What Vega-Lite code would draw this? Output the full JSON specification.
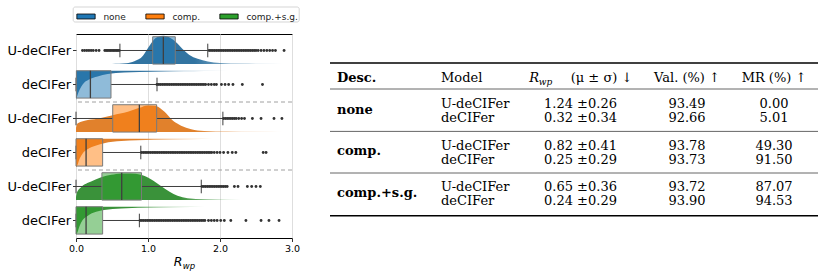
{
  "$schema": "https://vega.github.io/schema/vega-lite/v6.json",
  "padding": {"left": 6, "top": 5, "right": 0, "bottom": 0},
  "config": {"font": "DejaVu Sans", "view": {"stroke": null}},
  "spacing": 28,
  "resolve": {"scale": {"color": "independent"}, "legend": {"color": "independent"}},
  "datasets": {
    "violins": [
      {"r":0,"x":0,"d":0},{"r":0,"x":0.5,"d":0},{"r":0,"x":0.6,"d":0.004},{"r":0,"x":0.7,"d":0.02},{"r":0,"x":0.81,"d":0.08},{"r":0,"x":0.93,"d":0.24},{"r":0,"x":1.0,"d":0.47},{"r":0,"x":1.065,"d":0.67},{"r":0,"x":1.13,"d":0.79},{"r":0,"x":1.22,"d":0.83},{"r":0,"x":1.3,"d":0.78},{"r":0,"x":1.39,"d":0.64},{"r":0,"x":1.48,"d":0.44},{"r":0,"x":1.57,"d":0.27},{"r":0,"x":1.69,"d":0.15},{"r":0,"x":1.83,"d":0.07},{"r":0,"x":2.0,"d":0.03},{"r":0,"x":2.3,"d":0.012},{"r":0,"x":2.6,"d":0.005},{"r":0,"x":2.9,"d":0},{"r":0,"x":3.0,"d":0},
      {"r":1,"x":0,"d":0.86},{"r":1,"x":0.02,"d":0.72},{"r":1,"x":0.05,"d":0.56},{"r":1,"x":0.09,"d":0.41},{"r":1,"x":0.18,"d":0.26},{"r":1,"x":0.3,"d":0.17},{"r":1,"x":0.44,"d":0.1},{"r":1,"x":0.67,"d":0.05},{"r":1,"x":1.09,"d":0.03},{"r":1,"x":1.5,"d":0.018},{"r":1,"x":1.78,"d":0.01},{"r":1,"x":2.2,"d":0.005},{"r":1,"x":2.6,"d":0},{"r":1,"x":3.0,"d":0},
      {"r":2,"x":0,"d":0.12},{"r":2,"x":0.02,"d":0.25},{"r":2,"x":0.12,"d":0.33},{"r":2,"x":0.3,"d":0.39},{"r":2,"x":0.51,"d":0.49},{"r":2,"x":0.72,"d":0.59},{"r":2,"x":0.88,"d":0.71},{"r":2,"x":1.0,"d":0.78},{"r":2,"x":1.11,"d":0.76},{"r":2,"x":1.23,"d":0.59},{"r":2,"x":1.34,"d":0.34},{"r":2,"x":1.46,"d":0.18},{"r":2,"x":1.6,"d":0.08},{"r":2,"x":1.78,"d":0.03},{"r":2,"x":2.1,"d":0.01},{"r":2,"x":2.5,"d":0.004},{"r":2,"x":2.9,"d":0},{"r":2,"x":3.0,"d":0},
      {"r":3,"x":0,"d":0.83},{"r":3,"x":0.01,"d":0.82},{"r":3,"x":0.05,"d":0.59},{"r":3,"x":0.09,"d":0.44},{"r":3,"x":0.16,"d":0.31},{"r":3,"x":0.28,"d":0.2},{"r":3,"x":0.39,"d":0.13},{"r":3,"x":0.63,"d":0.07},{"r":3,"x":1.08,"d":0.03},{"r":3,"x":1.6,"d":0.012},{"r":3,"x":2.2,"d":0.004},{"r":3,"x":2.65,"d":0},{"r":3,"x":3.0,"d":0},
      {"r":4,"x":0,"d":0.08},{"r":4,"x":0.01,"d":0.2},{"r":4,"x":0.07,"d":0.37},{"r":4,"x":0.21,"d":0.54},{"r":4,"x":0.35,"d":0.67},{"r":4,"x":0.49,"d":0.74},{"r":4,"x":0.625,"d":0.78},{"r":4,"x":0.76,"d":0.78},{"r":4,"x":0.9,"d":0.74},{"r":4,"x":1.04,"d":0.61},{"r":4,"x":1.18,"d":0.41},{"r":4,"x":1.3,"d":0.24},{"r":4,"x":1.41,"d":0.12},{"r":4,"x":1.55,"d":0.05},{"r":4,"x":1.78,"d":0.02},{"r":4,"x":2.1,"d":0.008},{"r":4,"x":2.57,"d":0},{"r":4,"x":3.0,"d":0},
      {"r":5,"x":0,"d":0.81},{"r":5,"x":0.01,"d":0.8},{"r":5,"x":0.05,"d":0.57},{"r":5,"x":0.09,"d":0.4},{"r":5,"x":0.16,"d":0.27},{"r":5,"x":0.28,"d":0.15},{"r":5,"x":0.39,"d":0.1},{"r":5,"x":0.63,"d":0.05},{"r":5,"x":1.08,"d":0.025},{"r":5,"x":1.6,"d":0.01},{"r":5,"x":2.0,"d":0.004},{"r":5,"x":2.8,"d":0},{"r":5,"x":3.0,"d":0}
    ],
    "boxes": [
      {"desc":"none","model":"U-deCIFer","r":0,"wlo":0.61,"q1":1.065,"med":1.213,"q3":1.379,"whi":1.83},
      {"desc":"none","model":"deCIFer","r":1,"wlo":0.0,"q1":0.005,"med":0.2,"q3":0.486,"whi":1.125},
      {"desc":"comp.","model":"U-deCIFer","r":2,"wlo":0.0,"q1":0.51,"med":0.88,"q3":1.12,"whi":2.04},
      {"desc":"comp.","model":"deCIFer","r":3,"wlo":0.0,"q1":0.0,"med":0.14,"q3":0.37,"whi":0.9},
      {"desc":"comp.+s.g.","model":"U-deCIFer","r":4,"wlo":0.0,"q1":0.36,"med":0.635,"q3":0.91,"whi":1.74},
      {"desc":"comp.+s.g.","model":"deCIFer","r":5,"wlo":0.0,"q1":0.0,"med":0.14,"q3":0.37,"whi":0.88}
    ],
    "outliers": [
      {"r":0,"x":0.09},{"r":0,"x":0.12},{"r":0,"x":0.15},{"r":0,"x":0.18},{"r":0,"x":0.21},{"r":0,"x":0.24},{"r":0,"x":0.28},{"r":0,"x":0.32},{"r":0,"x":0.4},{"r":0,"x":0.42},{"r":0,"x":0.44},{"r":0,"x":0.46},{"r":0,"x":0.48},{"r":0,"x":0.5},{"r":0,"x":0.52},{"r":0,"x":0.54},{"r":0,"x":0.56},{"r":0,"x":0.58},{"r":0,"x":0.6},
      {"r":0,"x":1.85},{"r":0,"x":1.875},{"r":0,"x":1.9},{"r":0,"x":1.925},{"r":0,"x":1.95},{"r":0,"x":1.975},{"r":0,"x":2.0},{"r":0,"x":2.025},{"r":0,"x":2.05},{"r":0,"x":2.075},{"r":0,"x":2.1},{"r":0,"x":2.125},{"r":0,"x":2.15},{"r":0,"x":2.175},{"r":0,"x":2.2},{"r":0,"x":2.225},{"r":0,"x":2.25},{"r":0,"x":2.275},{"r":0,"x":2.3},{"r":0,"x":2.325},{"r":0,"x":2.35},{"r":0,"x":2.375},{"r":0,"x":2.4},{"r":0,"x":2.425},{"r":0,"x":2.45},{"r":0,"x":2.475},{"r":0,"x":2.5},{"r":0,"x":2.53},{"r":0,"x":2.57},{"r":0,"x":2.61},{"r":0,"x":2.65},{"r":0,"x":2.69},{"r":0,"x":2.73},{"r":0,"x":2.77},{"r":0,"x":2.89},
      {"r":1,"x":1.125},{"r":1,"x":1.15},{"r":1,"x":1.175},{"r":1,"x":1.2},{"r":1,"x":1.225},{"r":1,"x":1.25},{"r":1,"x":1.275},{"r":1,"x":1.3},{"r":1,"x":1.325},{"r":1,"x":1.35},{"r":1,"x":1.375},{"r":1,"x":1.4},{"r":1,"x":1.425},{"r":1,"x":1.45},{"r":1,"x":1.475},{"r":1,"x":1.5},{"r":1,"x":1.525},{"r":1,"x":1.55},{"r":1,"x":1.575},{"r":1,"x":1.6},{"r":1,"x":1.625},{"r":1,"x":1.65},{"r":1,"x":1.675},{"r":1,"x":1.7},{"r":1,"x":1.725},{"r":1,"x":1.75},{"r":1,"x":1.775},{"r":1,"x":1.8},{"r":1,"x":1.84},{"r":1,"x":1.88},{"r":1,"x":1.92},{"r":1,"x":1.95},{"r":1,"x":2.02},{"r":1,"x":2.07},{"r":1,"x":2.12},{"r":1,"x":2.18},{"r":1,"x":2.31},{"r":1,"x":2.59},
      {"r":2,"x":2.05},{"r":2,"x":2.075},{"r":2,"x":2.1},{"r":2,"x":2.125},{"r":2,"x":2.15},{"r":2,"x":2.175},{"r":2,"x":2.2},{"r":2,"x":2.225},{"r":2,"x":2.26},{"r":2,"x":2.3},{"r":2,"x":2.34},{"r":2,"x":2.45},{"r":2,"x":2.57},{"r":2,"x":2.75},{"r":2,"x":2.86},
      {"r":3,"x":0.91},{"r":3,"x":0.935},{"r":3,"x":0.96},{"r":3,"x":0.985},{"r":3,"x":1.01},{"r":3,"x":1.035},{"r":3,"x":1.06},{"r":3,"x":1.085},{"r":3,"x":1.11},{"r":3,"x":1.135},{"r":3,"x":1.16},{"r":3,"x":1.185},{"r":3,"x":1.21},{"r":3,"x":1.235},{"r":3,"x":1.26},{"r":3,"x":1.285},{"r":3,"x":1.31},{"r":3,"x":1.335},{"r":3,"x":1.36},{"r":3,"x":1.385},{"r":3,"x":1.41},{"r":3,"x":1.435},{"r":3,"x":1.46},{"r":3,"x":1.485},{"r":3,"x":1.51},{"r":3,"x":1.535},{"r":3,"x":1.56},{"r":3,"x":1.585},{"r":3,"x":1.61},{"r":3,"x":1.635},{"r":3,"x":1.66},{"r":3,"x":1.685},{"r":3,"x":1.71},{"r":3,"x":1.735},{"r":3,"x":1.76},{"r":3,"x":1.785},{"r":3,"x":1.81},{"r":3,"x":1.835},{"r":3,"x":1.86},{"r":3,"x":1.885},{"r":3,"x":1.92},{"r":3,"x":1.96},{"r":3,"x":2.0},{"r":3,"x":2.05},{"r":3,"x":2.11},{"r":3,"x":2.17},{"r":3,"x":2.22},{"r":3,"x":2.6},{"r":3,"x":2.64},
      {"r":4,"x":1.75},{"r":4,"x":1.775},{"r":4,"x":1.8},{"r":4,"x":1.825},{"r":4,"x":1.85},{"r":4,"x":1.875},{"r":4,"x":1.9},{"r":4,"x":1.925},{"r":4,"x":1.95},{"r":4,"x":1.975},{"r":4,"x":2.0},{"r":4,"x":2.025},{"r":4,"x":2.05},{"r":4,"x":2.075},{"r":4,"x":2.1},{"r":4,"x":2.2},{"r":4,"x":2.25},{"r":4,"x":2.38},{"r":4,"x":2.44},{"r":4,"x":2.5},{"r":4,"x":2.56},
      {"r":5,"x":0.89},{"r":5,"x":0.915},{"r":5,"x":0.94},{"r":5,"x":0.965},{"r":5,"x":0.99},{"r":5,"x":1.015},{"r":5,"x":1.04},{"r":5,"x":1.065},{"r":5,"x":1.09},{"r":5,"x":1.115},{"r":5,"x":1.14},{"r":5,"x":1.165},{"r":5,"x":1.19},{"r":5,"x":1.215},{"r":5,"x":1.24},{"r":5,"x":1.265},{"r":5,"x":1.29},{"r":5,"x":1.315},{"r":5,"x":1.34},{"r":5,"x":1.365},{"r":5,"x":1.39},{"r":5,"x":1.415},{"r":5,"x":1.44},{"r":5,"x":1.465},{"r":5,"x":1.49},{"r":5,"x":1.515},{"r":5,"x":1.54},{"r":5,"x":1.565},{"r":5,"x":1.59},{"r":5,"x":1.615},{"r":5,"x":1.64},{"r":5,"x":1.665},{"r":5,"x":1.69},{"r":5,"x":1.715},{"r":5,"x":1.74},{"r":5,"x":1.765},{"r":5,"x":1.79},{"r":5,"x":1.84},{"r":5,"x":1.88},{"r":5,"x":1.92},{"r":5,"x":1.96},{"r":5,"x":2.01},{"r":5,"x":2.06},{"r":5,"x":2.15},{"r":5,"x":2.36},{"r":5,"x":2.57},{"r":5,"x":2.68},{"r":5,"x":2.82}
    ],
    "table": [
      {"c":0,"l":1,"t":"Desc."},{"c":1,"l":1,"t":"Model"},{"c":2,"l":1,"t":"R"},{"c":3,"l":2,"t":"wp"},{"c":4,"l":1,"t":"(μ ± σ) ↓"},{"c":6,"l":1,"t":"Val. (%) ↑"},{"c":7,"l":1,"t":"MR (%) ↑"},
      {"c":0,"l":5,"t":"none"},{"c":0,"l":9,"t":"comp."},{"c":0,"l":13,"t":"comp.+s.g."},
      {"c":1,"l":4,"t":"U-deCIFer"},{"c":5,"l":4,"t":"1.24 ±0.26"},{"c":6,"l":4,"t":"93.49"},{"c":7,"l":4,"t":"0.00"},
      {"c":1,"l":6,"t":"deCIFer"},{"c":5,"l":6,"t":"0.32 ±0.34"},{"c":6,"l":6,"t":"92.66"},{"c":7,"l":6,"t":"5.01"},
      {"c":1,"l":8,"t":"U-deCIFer"},{"c":5,"l":8,"t":"0.82 ±0.41"},{"c":6,"l":8,"t":"93.78"},{"c":7,"l":8,"t":"49.30"},
      {"c":1,"l":10,"t":"deCIFer"},{"c":5,"l":10,"t":"0.25 ±0.29"},{"c":6,"l":10,"t":"93.73"},{"c":7,"l":10,"t":"91.50"},
      {"c":1,"l":12,"t":"U-deCIFer"},{"c":5,"l":12,"t":"0.65 ±0.36"},{"c":6,"l":12,"t":"93.72"},{"c":7,"l":12,"t":"87.07"},
      {"c":1,"l":14,"t":"deCIFer"},{"c":5,"l":14,"t":"0.24 ±0.29"},{"c":6,"l":14,"t":"93.90"},{"c":7,"l":14,"t":"94.53"}
    ]
  },
  "hconcat": [
    {
      "width": 216,
      "height": 204,
      "view": {"stroke": "#000", "strokeWidth": 1},
      "resolve": {"axis": {"x": "independent"}},
      "layer": [
        {
          "data": {"name": "violins"},
          "transform": [{"filter": "datum.r == 0"}, {"calculate": "datum.r + 0.88 - datum.d", "as": "yv"}, {"calculate": "datum.r + 0.88", "as": "yb"}],
          "mark": {"type": "area", "interpolate": "monotone", "fill": {"gradient": "linear", "x1": 0, "y1": 0, "x2": 1, "y2": 0, "stops": [{"offset": 0, "color": "rgba(50,116,161,1)"}, {"offset": 0.55, "color": "rgba(50,116,161,1)"}, {"offset": 0.97, "color": "rgba(50,116,161,0)"}]}},
          "encoding": {
            "x": {"field": "x", "type": "quantitative", "scale": {"domain": [0, 3], "nice": false, "zero": false},
              "axis": {"orient": "bottom", "values": [0, 1, 2, 3], "format": ".1f", "grid": true, "gridColor": "#dedede", "gridWidth": 1, "domain": false, "ticks": true, "tickColor": "#000", "tickSize": 3.5, "tickWidth": 0.8, "labelFontSize": 9.5, "labelColor": "#000", "labelPadding": 2, "labelFlush": false, "title": "R", "titleFontStyle": "italic", "titleFontWeight": "normal", "titleFontSize": 12.5, "titleX": 101.7, "titleY": 27.7, "titleBaseline": "alphabetic", "titleAlign": "center", "titleAnchor": null, "titleColor": "#000"}},
            "y": {"field": "yv", "type": "quantitative", "scale": {"domain": [0, 6], "reverse": true, "nice": false, "zero": false},
              "axis": {"values": [0.485, 1.485, 2.485, 3.485, 4.485, 5.485], "labelExpr": "floor(datum.value) % 2 == 0 ? 'U-deCIFer' : 'deCIFer'", "grid": false, "domain": false, "tickColor": "#000", "tickSize": 3.5, "tickWidth": 0.8, "labelFontSize": 13, "labelColor": "#000", "labelPadding": 2, "title": null}},
            "y2": {"field": "yb"}
          }
        },
        {
          "data": {"name": "violins"},
          "transform": [{"filter": "datum.r == 1"}, {"calculate": "datum.r + 0.08 + datum.d", "as": "yv"}, {"calculate": "datum.r + 0.08", "as": "yb"}],
          "mark": {"type": "area", "interpolate": "monotone", "fill": {"gradient": "linear", "x1": 0, "y1": 0, "x2": 1, "y2": 0, "stops": [{"offset": 0, "color": "rgba(50,116,161,1)"}, {"offset": 0.33, "color": "rgba(50,116,161,1)"}, {"offset": 0.7, "color": "rgba(50,116,161,0)"}]}},
          "encoding": {"x": {"field": "x", "type": "quantitative", "axis": null}, "y": {"field": "yv", "type": "quantitative"}, "y2": {"field": "yb"}}
        },
        {
          "data": {"name": "violins"},
          "transform": [{"filter": "datum.r == 2"}, {"calculate": "datum.r + 0.88 - datum.d", "as": "yv"}, {"calculate": "datum.r + 0.88", "as": "yb"}],
          "mark": {"type": "area", "interpolate": "monotone", "fill": {"gradient": "linear", "x1": 0, "y1": 0, "x2": 1, "y2": 0, "stops": [{"offset": 0, "color": "rgba(225,129,44,1)"}, {"offset": 0.55, "color": "rgba(225,129,44,1)"}, {"offset": 0.97, "color": "rgba(225,129,44,0)"}]}},
          "encoding": {"x": {"field": "x", "type": "quantitative", "axis": null}, "y": {"field": "yv", "type": "quantitative"}, "y2": {"field": "yb"}}
        },
        {
          "data": {"name": "violins"},
          "transform": [{"filter": "datum.r == 3"}, {"calculate": "datum.r + 0.08 + datum.d", "as": "yv"}, {"calculate": "datum.r + 0.08", "as": "yb"}],
          "mark": {"type": "area", "interpolate": "monotone", "fill": {"gradient": "linear", "x1": 0, "y1": 0, "x2": 1, "y2": 0, "stops": [{"offset": 0, "color": "rgba(225,129,44,1)"}, {"offset": 0.28, "color": "rgba(225,129,44,1)"}, {"offset": 0.72, "color": "rgba(225,129,44,0)"}]}},
          "encoding": {"x": {"field": "x", "type": "quantitative", "axis": null}, "y": {"field": "yv", "type": "quantitative"}, "y2": {"field": "yb"}}
        },
        {
          "data": {"name": "violins"},
          "transform": [{"filter": "datum.r == 4"}, {"calculate": "datum.r + 0.88 - datum.d", "as": "yv"}, {"calculate": "datum.r + 0.88", "as": "yb"}],
          "mark": {"type": "area", "interpolate": "monotone", "fill": {"gradient": "linear", "x1": 0, "y1": 0, "x2": 1, "y2": 0, "stops": [{"offset": 0, "color": "rgba(58,146,58,1)"}, {"offset": 0.48, "color": "rgba(58,146,58,1)"}, {"offset": 0.87, "color": "rgba(58,146,58,0)"}]}},
          "encoding": {"x": {"field": "x", "type": "quantitative", "axis": null}, "y": {"field": "yv", "type": "quantitative"}, "y2": {"field": "yb"}}
        },
        {
          "data": {"name": "violins"},
          "transform": [{"filter": "datum.r == 5"}, {"calculate": "datum.r + 0.08 + datum.d", "as": "yv"}, {"calculate": "datum.r + 0.08", "as": "yb"}],
          "mark": {"type": "area", "interpolate": "monotone", "fill": {"gradient": "linear", "x1": 0, "y1": 0, "x2": 1, "y2": 0, "stops": [{"offset": 0, "color": "rgba(58,146,58,1)"}, {"offset": 0.28, "color": "rgba(58,146,58,1)"}, {"offset": 0.66, "color": "rgba(58,146,58,0)"}]}},
          "encoding": {"x": {"field": "x", "type": "quantitative", "axis": null}, "y": {"field": "yv", "type": "quantitative"}, "y2": {"field": "yb"}}
        },
        {
          "data": {"name": "boxes"},
          "transform": [{"calculate": "datum.r + 0.485", "as": "yv"}],
          "mark": {"type": "rule", "color": "#3f3f3f", "strokeWidth": 1},
          "encoding": {"x": {"field": "wlo", "type": "quantitative", "axis": null}, "x2": {"field": "q1"}, "y": {"field": "yv", "type": "quantitative"}}
        },
        {
          "data": {"name": "boxes"},
          "transform": [{"calculate": "datum.r + 0.485", "as": "yv"}],
          "mark": {"type": "rule", "color": "#3f3f3f", "strokeWidth": 1},
          "encoding": {"x": {"field": "q3", "type": "quantitative", "axis": null}, "x2": {"field": "whi"}, "y": {"field": "yv", "type": "quantitative"}}
        },
        {
          "data": {"name": "boxes"},
          "transform": [{"calculate": "datum.r + 0.285", "as": "yv"}, {"calculate": "datum.r + 0.685", "as": "yb"}],
          "mark": {"type": "rule", "color": "#3f3f3f", "strokeWidth": 1},
          "encoding": {"x": {"field": "wlo", "type": "quantitative", "axis": null}, "y": {"field": "yv", "type": "quantitative"}, "y2": {"field": "yb"}}
        },
        {
          "data": {"name": "boxes"},
          "transform": [{"calculate": "datum.r + 0.285", "as": "yv"}, {"calculate": "datum.r + 0.685", "as": "yb"}],
          "mark": {"type": "rule", "color": "#3f3f3f", "strokeWidth": 1},
          "encoding": {"x": {"field": "whi", "type": "quantitative", "axis": null}, "y": {"field": "yv", "type": "quantitative"}, "y2": {"field": "yb"}}
        },
        {
          "data": {"name": "boxes"},
          "transform": [{"calculate": "datum.r + 0.08", "as": "yv"}, {"calculate": "datum.r + 0.885", "as": "yb"}],
          "mark": {"type": "rect", "fillOpacity": 0.5, "stroke": "#7a7a7a", "strokeWidth": 1},
          "encoding": {
            "x": {"field": "q1", "type": "quantitative", "axis": null}, "x2": {"field": "q3"},
            "y": {"field": "yv", "type": "quantitative"}, "y2": {"field": "yb"},
            "color": {"field": "desc", "type": "nominal", "scale": {"domain": ["none", "comp.", "comp.+s.g."], "range": ["#1f77b4", "#ff7f0e", "#2ca02c"]},
              "legend": {"orient": "none", "legendX": -3.3, "legendY": -27.5, "direction": "horizontal", "title": null, "symbolType": "M-1,-0.27H1V0.27H-1Z", "symbolSize": 335, "symbolStrokeColor": "#000", "symbolStrokeWidth": 0.8, "symbolOpacity": 1, "symbolOffset": 3.3, "labelFont": "DejaVu Sans", "labelFontSize": 9, "labelOffset": 7.4, "labelColor": "#222", "labelLimit": 300, "columnPadding": 15, "padding": 0, "strokeColor": "#d5d5d5", "fillColor": "#ffffff", "cornerRadius": 2}}
          }
        },
        {
          "data": {"name": "boxes"},
          "transform": [{"calculate": "datum.r + 0.08", "as": "yv"}, {"calculate": "datum.r + 0.885", "as": "yb"}],
          "mark": {"type": "rule", "color": "#3f3f3f", "strokeWidth": 1.3},
          "encoding": {"x": {"field": "med", "type": "quantitative", "axis": null}, "y": {"field": "yv", "type": "quantitative"}, "y2": {"field": "yb"}}
        },
        {
          "data": {"values": [{"yv": 2}, {"yv": 4}]},
          "mark": {"type": "rule", "color": "#a0a0a0", "strokeDash": [4, 3], "strokeWidth": 1},
          "encoding": {"y": {"field": "yv", "type": "quantitative"}}
        },
        {
          "data": {"name": "outliers"},
          "transform": [{"calculate": "datum.r + 0.485", "as": "yv"}],
          "mark": {"type": "circle", "size": 8, "color": "#333333", "opacity": 1},
          "encoding": {
            "x": {"field": "x", "type": "quantitative", "axis": {"orient": "bottom", "grid": false, "domain": false, "ticks": false, "labels": false, "title": "wp", "titleFontStyle": "italic", "titleFontWeight": "normal", "titleFontSize": 8.5, "titleX": 112.5, "titleY": 30.5, "titleBaseline": "alphabetic", "titleAlign": "center", "titleAnchor": null, "titleColor": "#000"}},
            "y": {"field": "yv", "type": "quantitative"}
          }
        }
      ]
    },
    {
      "width": 488,
      "height": 204,
      "view": {"stroke": null},
      "layer": [
        {
          "data": {"values": [{"l": 0}, {"l": 15}]},
          "mark": {"type": "rule", "color": "#000", "strokeWidth": 1.5},
          "encoding": {"y": {"field": "l", "type": "quantitative", "axis": null, "scale": {"domain": [0, 1, 2, 3, 4, 5, 6, 7, 8, 9, 10, 11, 12, 13, 14, 15], "range": [29, 48.4, 51.4, 55, 74.4, 80, 88.4, 97.4, 115.7, 121, 130, 139, 156.7, 162.7, 171, 181.7], "nice": false, "zero": false}}}
        },
        {
          "data": {"values": [{"l": 3}, {"l": 7}, {"l": 11}]},
          "mark": {"type": "rule", "color": "#555", "strokeWidth": 0.9},
          "encoding": {"y": {"field": "l", "type": "quantitative", "axis": null}}
        },
        {
          "data": {"name": "table"},
          "transform": [{"filter": "datum.c == 0"}],
          "mark": {"type": "text", "align": "left", "baseline": "alphabetic", "font": "DejaVu Serif", "fontWeight": "bold", "fontSize": 13, "color": "#000"},
          "encoding": {"x": {"field": "c", "type": "quantitative", "axis": null, "scale": {"domain": [0, 1, 2, 3, 4, 5, 6, 7], "range": [7, 111, 199.3, 208.8, 240.7, 250.5, 357, 444], "nice": false, "zero": false}}, "y": {"field": "l", "type": "quantitative", "axis": null}, "text": {"field": "t"}}
        },
        {
          "data": {"name": "table"},
          "transform": [{"filter": "datum.c == 1 || datum.c == 4"}],
          "mark": {"type": "text", "align": "left", "baseline": "alphabetic", "font": "DejaVu Serif", "fontSize": 13, "color": "#000"},
          "encoding": {"x": {"field": "c", "type": "quantitative", "axis": null}, "y": {"field": "l", "type": "quantitative", "axis": null}, "text": {"field": "t"}}
        },
        {
          "data": {"name": "table"},
          "transform": [{"filter": "datum.c == 2"}],
          "mark": {"type": "text", "align": "left", "baseline": "alphabetic", "font": "DejaVu Serif", "fontStyle": "italic", "fontSize": 13, "color": "#000"},
          "encoding": {"x": {"field": "c", "type": "quantitative", "axis": null}, "y": {"field": "l", "type": "quantitative", "axis": null}, "text": {"field": "t"}}
        },
        {
          "data": {"name": "table"},
          "transform": [{"filter": "datum.c == 3"}],
          "mark": {"type": "text", "align": "left", "baseline": "alphabetic", "font": "DejaVu Serif", "fontStyle": "italic", "fontSize": 9, "color": "#000"},
          "encoding": {"x": {"field": "c", "type": "quantitative", "axis": null}, "y": {"field": "l", "type": "quantitative", "axis": null}, "text": {"field": "t"}}
        },
        {
          "data": {"name": "table"},
          "transform": [{"filter": "datum.c >= 5"}],
          "mark": {"type": "text", "align": "center", "baseline": "alphabetic", "font": "DejaVu Serif", "fontSize": 13, "color": "#000"},
          "encoding": {"x": {"field": "c", "type": "quantitative", "axis": null}, "y": {"field": "l", "type": "quantitative", "axis": null}, "text": {"field": "t"}}
        }
      ]
    }
  ]
}
